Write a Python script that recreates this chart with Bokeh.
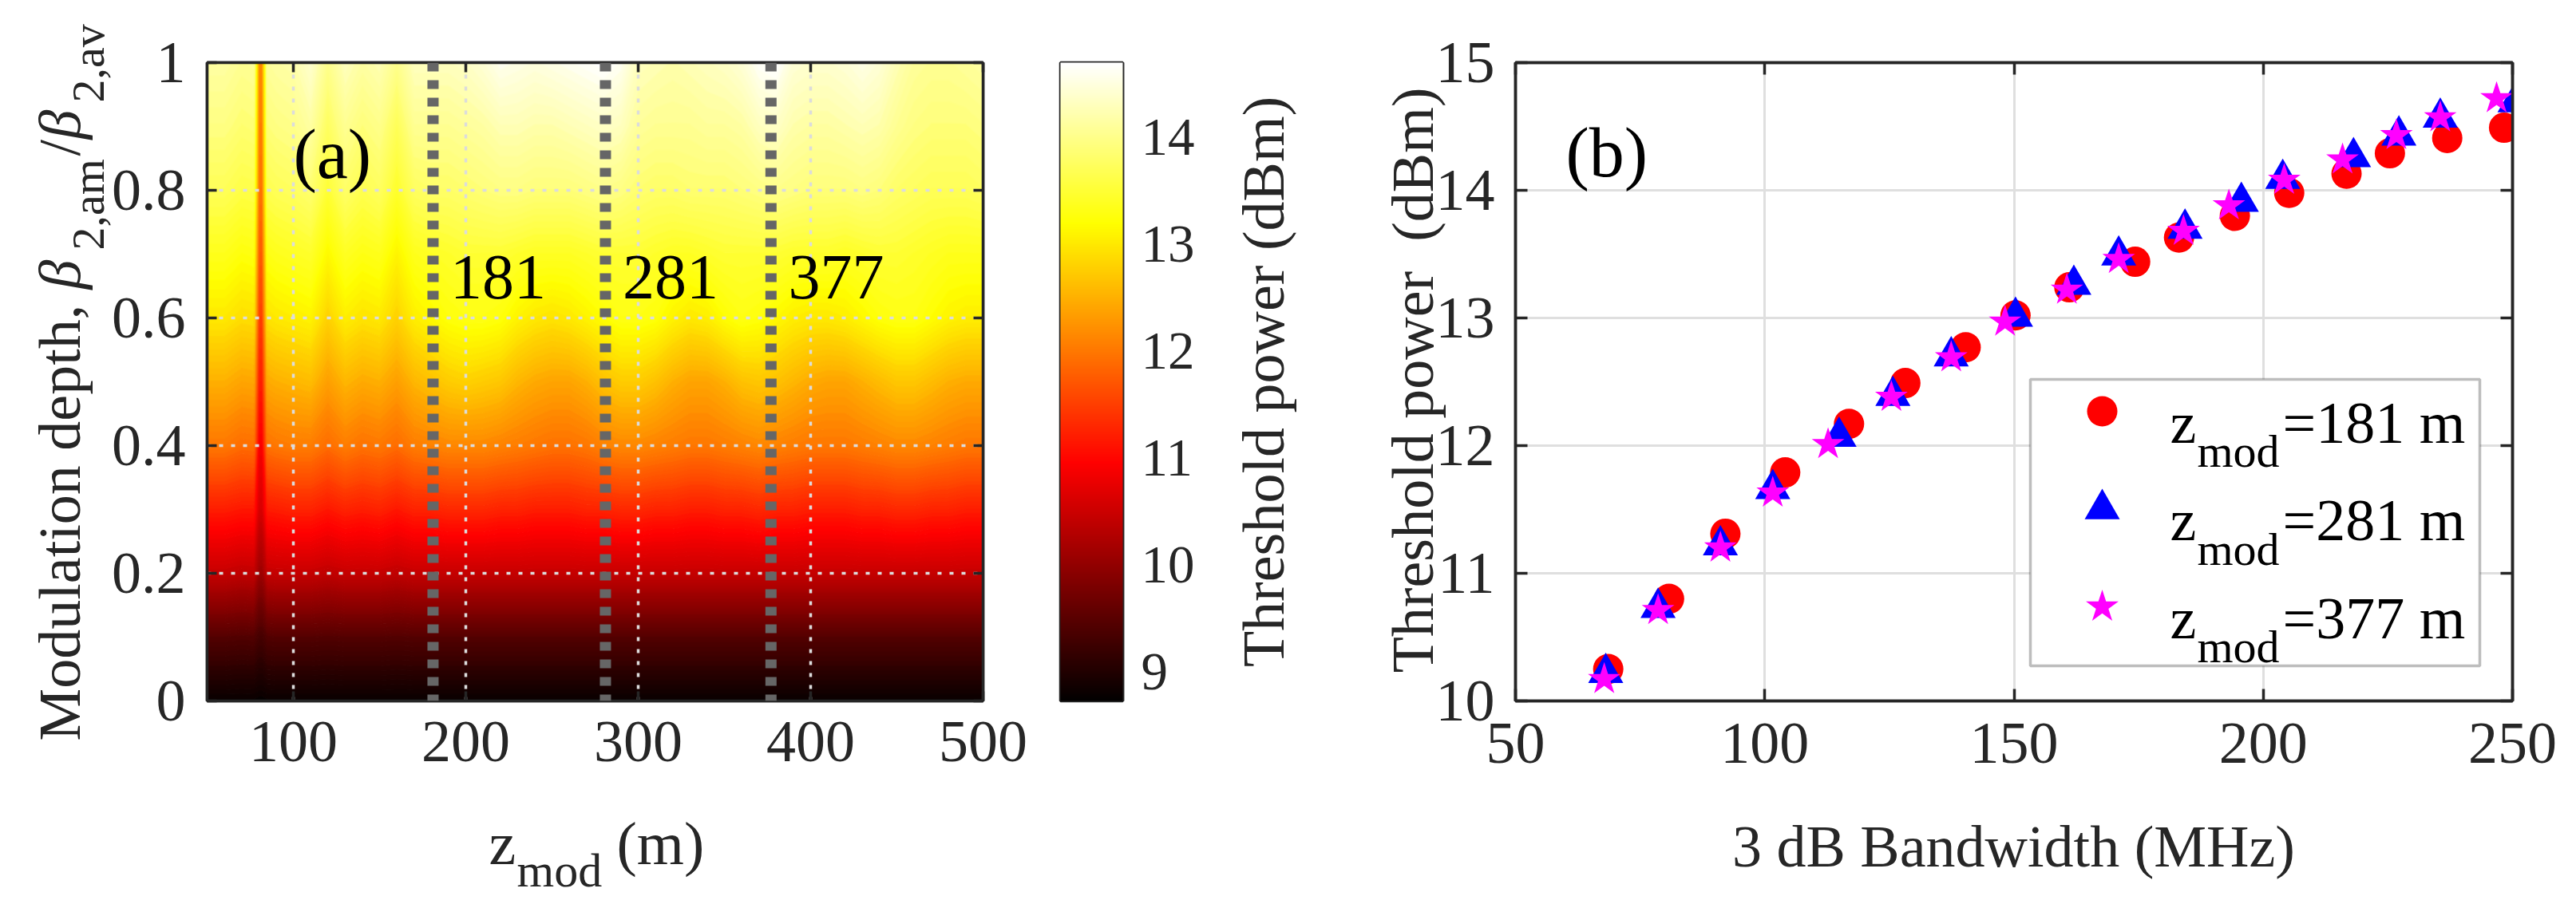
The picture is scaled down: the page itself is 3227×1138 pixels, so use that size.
import numpy as np
from bokeh.plotting import figure
from bokeh.models import (Range1d, LinearAxis, FixedTicker, LinearColorMapper, ColorBar,
                          Label, Span, BoxAnnotation, CustomJSTickFormatter, GridBox, Row, Column)
from bokeh.embed import file_html
from bokeh.resources import INLINE
from bokeh.core.properties import value

FONT = "Liberation Serif"
INK = "#262626"

# ---------------- data: panel (a) heat map (threshold power, dBm) ----------------
zmod_grid = [50, 60, 70, 77, 80, 82, 85, 90, 100, 110, 120, 130, 140, 150, 160, 170, 180, 190, 200,
             210, 220, 230, 240, 250, 260, 270, 280, 290, 300, 310, 320, 330, 340, 350,
             360, 370, 380, 390, 400, 410, 420, 430, 440, 450, 460, 470, 480, 490, 500]
depth_grid = [0.0, 0.1, 0.2, 0.3, 0.4, 0.5, 0.6, 0.7, 0.8, 0.9, 1.0]

thr_d00 = [8.78, 8.78, 8.78, 8.78, 8.76, 8.76, 8.78, 8.78, 8.78, 8.78, 8.78, 8.78, 8.78, 8.78, 8.78, 8.78, 8.78, 8.78, 8.78,
           8.78, 8.78, 8.78, 8.78, 8.78, 8.78, 8.78, 8.78, 8.78, 8.78, 8.78, 8.78, 8.78, 8.78, 8.78,
           8.78, 8.78, 8.78, 8.78, 8.78, 8.78, 8.78, 8.78, 8.78, 8.78, 8.78, 8.78, 8.78, 8.78, 8.78]
thr_d01 = [9.45, 9.45, 9.43, 9.44, 9.33, 9.33, 9.44, 9.45, 9.45, 9.45, 9.44, 9.45, 9.45, 9.45, 9.44, 9.45, 9.45, 9.45, 9.45,
           9.45, 9.45, 9.45, 9.45, 9.45, 9.45, 9.45, 9.45, 9.45, 9.45, 9.45, 9.45, 9.45, 9.45, 9.45,
           9.45, 9.45, 9.45, 9.45, 9.45, 9.45, 9.45, 9.45, 9.45, 9.45, 9.45, 9.45, 9.45, 9.45, 9.45]
thr_d02 = [10.45, 10.45, 10.4, 10.42, 10.1, 10.1, 10.43, 10.45, 10.45, 10.45, 10.4, 10.45, 10.45, 10.45, 10.4, 10.45,
           10.45, 10.45, 10.45, 10.45, 10.45, 10.45, 10.45, 10.45, 10.45, 10.45, 10.45, 10.45, 10.45, 10.45, 10.45,
           10.45, 10.45, 10.45, 10.45, 10.45, 10.45, 10.45, 10.45, 10.45, 10.45, 10.45, 10.45, 10.45, 10.45, 10.45,
           10.45, 10.45, 10.45]
thr_d03 = [11.2, 11.2, 11.15, 11.15, 10.6, 10.6, 11.18, 11.2, 11.25, 11.25, 11.15, 11.25, 11.2, 11.25, 11.15, 11.25,
           11.25, 11.3, 11.3, 11.3, 11.25, 11.25, 11.2, 11.2, 11.2, 11.25, 11.25, 11.3, 11.3, 11.25, 11.25, 11.2,
           11.2, 11.25, 11.25, 11.3, 11.25, 11.25, 11.2, 11.2, 11.2, 11.25, 11.25, 11.3, 11.3, 11.25, 11.25, 11.2,
           11.2]
thr_d04 = [12.0, 12.0, 11.9, 11.92, 10.9, 10.9, 11.95, 12.0, 12.05, 12.05, 11.9, 12.05, 11.95, 12.0, 11.9, 12.05,
           12.1, 12.15, 12.15, 12.15, 12.1, 12.05, 12.0, 11.95, 11.95, 12.0, 12.1, 12.15, 12.15, 12.1, 12.05, 12.0,
           12.0, 12.05, 12.1, 12.15, 12.1, 12.05, 12.0, 12.0, 12.0, 12.05, 12.1, 12.15, 12.15, 12.1, 12.05, 12.0,
           12.0]
thr_d05 = [12.5, 12.5, 12.4, 12.42, 11.2, 11.2, 12.45, 12.5, 12.55, 12.6, 12.35, 12.55, 12.45, 12.5, 12.35, 12.55,
           12.65, 12.75, 12.8, 12.75, 12.7, 12.55, 12.45, 12.4, 12.4, 12.5, 12.65, 12.75, 12.75, 12.65, 12.5, 12.4,
           12.4, 12.5, 12.65, 12.7, 12.65, 12.55, 12.45, 12.4, 12.4, 12.5, 12.6, 12.7, 12.7, 12.6, 12.5, 12.45,
           12.45]
thr_d06 = [13.0, 13.0, 12.9, 12.92, 11.5, 11.5, 12.95, 13.0, 13.05, 13.1, 12.8, 13.05, 12.95, 13.0, 12.8, 13.05,
           13.15, 13.25, 13.3, 13.3, 13.25, 13.1, 13.0, 12.95, 13.0, 13.1, 13.2, 13.3, 13.3, 13.25, 13.1, 13.0,
           13.05, 13.2, 13.3, 13.25, 13.15, 13.05, 13.0, 13.0, 13.05, 13.15, 13.25, 13.3, 13.3, 13.2, 13.1, 13.05,
           13.05]
thr_d07 = [13.35, 13.35, 13.25, 13.28, 11.75, 11.75, 13.3, 13.35, 13.4, 13.45, 13.15, 13.4, 13.3, 13.35, 13.1, 13.35,
           13.4, 13.45, 13.5, 13.5, 13.5, 13.45, 13.4, 13.4, 13.4, 13.45, 13.5, 13.5, 13.5, 13.45, 13.4, 13.4,
           13.45, 13.5, 13.5, 13.5, 13.5, 13.45, 13.45, 13.45, 13.4, 13.45, 13.5, 13.5, 13.45, 13.4, 13.35, 13.35,
           13.35]
thr_d08 = [13.7, 13.7, 13.6, 13.62, 11.95, 11.95, 13.65, 13.7, 13.75, 13.85, 13.5, 13.8, 13.65, 13.75, 13.45, 13.75,
           13.8, 13.8, 13.85, 13.9, 13.95, 13.95, 13.9, 13.9, 13.9, 13.95, 14.0, 13.95, 13.85, 13.8, 13.8, 13.85,
           13.85, 13.85, 13.9, 13.95, 14.0, 13.95, 13.9, 13.9, 13.9, 13.95, 13.9, 13.8, 13.75, 13.7, 13.7, 13.7,
           13.75]
thr_d09 = [13.95, 13.95, 13.85, 13.88, 12.05, 12.05, 13.9, 13.95, 14.0, 14.15, 13.75, 14.05, 13.9, 14.0, 13.7, 14.05,
           14.05, 14.05, 14.1, 14.15, 14.25, 14.25, 14.2, 14.2, 14.25, 14.3, 14.35, 14.3, 14.1, 14.05, 14.05, 14.05,
           14.1, 14.1, 14.15, 14.3, 14.35, 14.2, 14.15, 14.15, 14.2, 14.25, 14.2, 14.05, 13.95, 13.9, 13.9, 13.9,
           13.95]
thr_d10 = [14.15, 14.15, 14.05, 14.08, 12.15, 12.15, 14.1, 14.15, 14.2, 14.4, 14.0, 14.3, 14.15, 14.25, 14.0, 14.3,
           14.3, 14.3, 14.35, 14.45, 14.6, 14.55, 14.5, 14.55, 14.6, 14.65, 14.7, 14.6, 14.3, 14.25, 14.2, 14.25,
           14.3, 14.35, 14.45, 14.65, 14.7, 14.45, 14.4, 14.4, 14.45, 14.55, 14.45, 14.25, 14.1, 14.05, 14.05, 14.1,
           14.15]

zmod_marked = [181, 281, 377]
a_xticks = [100, 200, 300, 400, 500]
a_yticks = [0, 0.2, 0.4, 0.6, 0.8, 1]
cb_low, cb_high = 8.73, 14.70
cb_ticks = [9, 10, 11, 12, 13, 14]

# ---------------- data: panel (b) ----------------
bw_181 = [68.6, 80.8, 92.1, 104.1, 116.9, 128.2, 140.3, 150.3, 161.1, 174.3, 183.1, 194.3, 205.2, 216.7, 225.4, 236.9, 248.3]
pth_181 = [10.25, 10.80, 11.31, 11.79, 12.17, 12.49, 12.77, 13.02, 13.24, 13.44, 13.63, 13.80, 13.98, 14.13, 14.29, 14.41, 14.49]
bw_281 = [68.1, 78.6, 91.1, 101.6, 114.9, 125.7, 137.4, 150.3, 162.0, 171.0, 184.3, 195.6, 203.9, 218.1, 227.2, 235.5, 250.5]
pth_281 = [10.22, 10.73, 11.22, 11.66, 12.07, 12.39, 12.70, 13.01, 13.26, 13.49, 13.70, 13.91, 14.09, 14.26, 14.43, 14.57, 14.69]
bw_377 = [67.8, 78.6, 91.1, 101.6, 112.7, 125.4, 137.4, 148.2, 160.6, 171.0, 184.0, 193.1, 204.2, 215.9, 226.7, 235.5, 246.8]
pth_377 = [10.17, 10.71, 11.20, 11.63, 12.01, 12.38, 12.69, 12.97, 13.22, 13.46, 13.68, 13.88, 14.08, 14.24, 14.43, 14.57, 14.72]
b_xticks = [50, 100, 150, 200, 250]
b_yticks = [10, 11, 12, 13, 14, 15]


# ---------------- helpers ----------------
def hot_palette(n=256):
    n1 = int(3 * n / 8)
    n2 = n1
    n3 = n - n1 - n2
    r = [min(1.0, (i + 1) / n1) for i in range(n)]
    g = [0.0] * n1 + [(i + 1) / n2 for i in range(n2)] + [1.0] * n3
    b = [0.0] * (n1 + n2) + [(i + 1) / n3 for i in range(n3)]
    return ["#%02x%02x%02x" % (round(255 * r[i]), round(255 * g[i]), round(255 * b[i])) for i in range(n)]


HOT = hot_palette()


def hot_color(v):
    i = int((v - cb_low) / (cb_high - cb_low) * len(HOT))
    return HOT[max(0, min(len(HOT) - 1, i))]


def style_axis(ax, size, tick_in, standoff):
    ax.axis_line_color = INK
    ax.axis_line_width = 3.5
    ax.major_tick_line_color = INK
    ax.major_tick_line_width = 3.5
    ax.major_tick_in = tick_in
    ax.major_tick_out = 0
    ax.minor_tick_line_color = None
    ax.major_label_text_font = FONT
    ax.major_label_text_font_size = f"{size}px"
    ax.major_label_text_color = INK
    ax.major_label_standoff = standoff


def mirror_axis(ticks, tick_in):
    ax = LinearAxis(ticker=FixedTicker(ticks=ticks),
                    formatter=CustomJSTickFormatter(code="return ''"))
    style_axis(ax, 1, tick_in, 0)
    return ax


def lab(p, x, y, text, size, color=INK, angle=0.0, align="left", style="normal"):
    p.add_layout(Label(x=x, y=y, text=text, text_font=FONT, text_font_size=f"{size}px",
                       text_color=color, angle=angle, text_align=align,
                       text_baseline="alphabetic", text_font_style=style))


mapper = LinearColorMapper(palette=HOT, low=cb_low, high=cb_high)

# frame positions on the page (px); all panels share the same top / bottom
TOP, BOT = 86, 886
A_L, A_R = 267, 1239
C_L, C_R = 1336, 1414
B_L, B_R = 1906, 3155
BT, BB = TOP - 8, 1122 - (BOT - 8)   # borders inside each 1122 px tall figure


def xa(px): return 50 + (px - A_L) / (A_R - A_L) * 450
def ya(py): return (BOT - py) / (BOT - TOP)
def xb(px): return 50 + (px - B_L) / (B_R - B_L) * 200
def yb(py): return 10 + (BOT - py) / (BOT - TOP) * 5


R = np.pi / 2

# ---------------- panel (a) ----------------
pa = figure(width=1292, height=1122, x_range=Range1d(50, 500), y_range=Range1d(0, 1),
            output_backend="svg", toolbar_location=None,
            min_border_left=259, min_border_right=61, min_border_top=BT, min_border_bottom=BB)
pa.outline_line_color = INK
pa.outline_line_width = 3.5

grid = np.array([thr_d00, thr_d01, thr_d02, thr_d03, thr_d04, thr_d05,
                 thr_d06, thr_d07, thr_d08, thr_d09, thr_d10])
levels = list(np.linspace(8.70, 14.76, 122))
band_colors = [hot_color((levels[i] + levels[i + 1]) / 2) for i in range(len(levels) - 1)]
edge_colors = [hot_color(l) for l in levels]
cr = pa.contour(x=np.array(zmod_grid, dtype=float), y=np.array(depth_grid), z=grid, levels=levels,
                fill_color=band_colors, line_color=edge_colors, line_width=1.5)
cr.level = "image"

pa.xaxis.ticker = FixedTicker(ticks=a_xticks)
pa.yaxis.ticker = FixedTicker(ticks=a_yticks)
pa.yaxis.formatter = CustomJSTickFormatter(code="return String(Math.round(tick*10)/10)")
style_axis(pa.xaxis[0], 74, 12, 26)
style_axis(pa.yaxis[0], 74, 12, 27)
pa.add_layout(mirror_axis(a_xticks, 12), "above")
pa.add_layout(mirror_axis(a_yticks, 12), "right")

pa.xgrid.ticker = FixedTicker(ticks=a_xticks)
pa.ygrid.ticker = FixedTicker(ticks=a_yticks)
pa.grid.grid_line_color = "#dcdcdc"
pa.grid.grid_line_width = 3.5
pa.grid.grid_line_dash = "5 10"

for z in zmod_marked:
    pa.add_layout(Span(location=z, dimension="height", line_color="#666666",
                       line_width=14, line_dash="11 11"))
pa.text(x=[z + 10 for z in zmod_marked], y=[0.664] * len(zmod_marked),
        text=[str(z) for z in zmod_marked], text_font=value(FONT), text_font_size="80px",
        text_color="black", text_baseline="alphabetic", text_align="left")
lab(pa, xa(375), ya(201), "(a)", 88, color="black")

# ---------------- colour bar ----------------
pc = figure(width=340, height=1122, x_range=Range1d(0, 1), y_range=Range1d(cb_low, cb_high),
            x_axis_type=None, y_axis_type=None, output_backend="svg", toolbar_location=None,
            min_border_left=36, min_border_right=226, min_border_top=BT, min_border_bottom=BB)
pc.outline_line_color = INK
pc.outline_line_width = 3.5
cb = ColorBar(color_mapper=mapper, location=(0, 0), orientation="vertical", width=78, height=800,
              padding=0, margin=0, ticker=FixedTicker(ticks=[]), major_label_text_font_size="1px",
              bar_line_color=None, border_line_color=None, background_fill_color=None,
              major_tick_line_color=None, minor_tick_line_color=None)
pc.add_layout(cb, "center")
cax = LinearAxis(ticker=FixedTicker(ticks=cb_ticks))
style_axis(cax, 67, 10, 23)
pc.add_layout(cax, "right")

# ---------------- panel (b) ----------------
pb = figure(width=1579, height=1122, x_range=Range1d(50, 250), y_range=Range1d(10, 15),
            output_backend="svg", toolbar_location=None,
            min_border_left=266, min_border_right=64, min_border_top=BT, min_border_bottom=BB)
pb.outline_line_color = INK
pb.outline_line_width = 3.5
pb.xaxis.ticker = FixedTicker(ticks=b_xticks)
pb.yaxis.ticker = FixedTicker(ticks=b_yticks)
style_axis(pb.xaxis[0], 74, 15, 28)
style_axis(pb.yaxis[0], 74, 15, 26)
pb.add_layout(mirror_axis(b_xticks, 15), "above")
pb.add_layout(mirror_axis(b_yticks, 15), "right")
pb.xgrid.ticker = FixedTicker(ticks=b_xticks)
pb.ygrid.ticker = FixedTicker(ticks=b_yticks)
pb.grid.grid_line_color = "#dfdfdf"
pb.grid.grid_line_width = 3

series = [
    (bw_181, pth_181, "circle", 38, "#ff0000"),
    (bw_281, pth_281, "triangle", 44, "#0000ff"),
    (bw_377, pth_377, "star", 43, "#ff00ff"),
]
for xs, ys, mk, sz, col in series:
    pb.scatter(xs, ys, marker=mk, size=sz, fill_color=col, line_color=None)

# legend (drawn by hand so that the subscripts can be shown)
pb.add_layout(BoxAnnotation(left=xb(2551), right=xb(3114), top=yb(483), bottom=yb(842),
                            fill_color="white", fill_alpha=1.0, line_color=INK, line_width=3.5))
rows_y = [523, 645.5, 768]
for (xs, ys, mk, sz, col), ry, z in zip(series, rows_y, zmod_marked):
    key = pb.scatter([xb(2641)], [yb(ry)], marker=mk, size=sz, fill_color=col, line_color=None)
    key.level = "overlay"
    lab(pb, xb(2726), yb(ry + 14), "z", 74, color="black")
    lab(pb, xb(2760), yb(ry + 50), "mod", 58, color="black")
    lab(pb, xb(2867), yb(ry + 14), f"={z} m", 74, color="black")
lab(pb, xb(1969), yb(199), "(b)", 88, color="black")

# ---------------- transparent overlay for the axis titles ----------------
W, H = 3211, 1122
ov = figure(width=W, height=H, x_range=Range1d(0, W), y_range=Range1d(0, H),
            x_axis_type=None, y_axis_type=None, output_backend="svg", toolbar_location=None,
            min_border=0, min_border_left=0, min_border_right=0, min_border_top=0, min_border_bottom=0)
ov.outline_line_color = None
ov.background_fill_color = None
ov.border_fill_color = None


def olab(px, py, text, size, **kw):
    lab(ov, px - 8, (H + 8) - py, text, size, **kw)


# panel (a) y title:  Modulation depth, beta_{2,am} / beta_{2,av}
olab(82, 936, "Modulation depth,", 74, angle=R)
olab(82, 370, "β", 74, angle=R, style="italic")
olab(118, 321, "2,am", 58, angle=R)
olab(82, 203, "/", 74, angle=R)
olab(82, 182, "β", 74, angle=R, style="italic")
olab(118, 136, "2,av", 58, angle=R)
# panel (a) x title:  z_mod (m)
olab(620, 1064, "z", 76)
olab(655, 1098, "mod", 60)
olab(780, 1064, "(m)", 76)
# colour bar title
olab(1590, 486, "Threshold power (dBm)", 74, angle=R, align="center")
# panel (b) titles
olab(2530, 1068, "3 dB Bandwidth (MHz)", 74, align="center")
olab(1777, 484, "Threshold power\u00a0 (dBm)", 74, angle=R, align="center")

panels = Row(children=[pa, pc, pb])
layer = Column(children=[ov])
layout = GridBox(children=[(panels, 0, 0), (layer, 0, 0)])
open("out.html", "w").write(file_html(layout, INLINE))
